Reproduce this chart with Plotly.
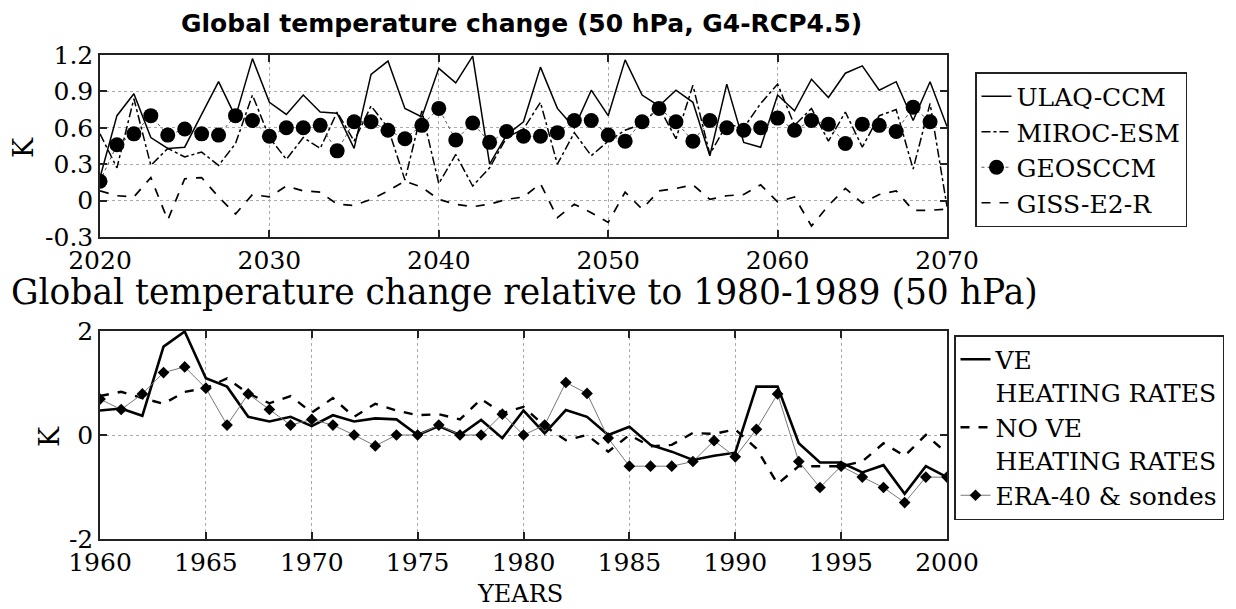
import plotly.graph_objects as go

# ---------------- data ----------------
years_top = list(range(2020, 2071))
ulaq_ccm = [0.19, 0.70, 0.88, 0.52, 0.43, 0.44, 0.71, 0.98, 0.69, 1.17,
            0.81, 0.71, 0.87, 0.73, 0.72, 0.43, 1.04, 1.15, 0.76, 0.69,
            1.09, 0.97, 1.19, 0.30, 0.54, 0.65, 1.10, 0.76, 0.60, 0.91,
            0.70, 1.16, 0.87, 0.78, 0.91, 0.81, 0.37, 0.96, 0.48, 0.44,
            0.87, 0.74, 1.00, 0.85, 1.05, 1.11, 0.91, 0.98, 0.66, 0.98, 0.61]
miroc_esm = [0.55, 0.27, 0.84, 0.29, 0.43, 0.36, 0.40, 0.29, 0.47, 0.87,
             0.52, 0.34, 0.52, 0.43, 0.73, 0.49, 0.78, 0.60, 0.17, 0.74,
             0.14, 0.38, 0.12, 0.27, 0.52, 0.59, 0.81, 0.30, 0.56, 0.37,
             0.49, 0.58, 0.63, 0.77, 0.51, 0.95, 0.38, 0.63, 0.60, 0.80,
             0.96, 0.62, 0.76, 0.49, 0.73, 0.44, 0.70, 0.75, 0.26, 0.80, -0.05]
geosccm = [0.16, 0.46, 0.55, 0.70, 0.54, 0.59, 0.55, 0.54, 0.70, 0.66,
           0.53, 0.60, 0.60, 0.62, 0.41, 0.65, 0.65, 0.58, 0.51, 0.62,
           0.76, 0.50, 0.64, 0.48, 0.57, 0.53, 0.53, 0.56, 0.66, 0.66,
           0.54, 0.49, 0.65, 0.76, 0.65, 0.49, 0.66, 0.60, 0.58, 0.60,
           0.68, 0.58, 0.66, 0.63, 0.47, 0.63, 0.62, 0.57, 0.77, 0.65, None]
giss_e2_r = [0.08, 0.04, 0.03, 0.19, -0.16, 0.18, 0.19, 0.03, -0.11, 0.05,
             0.03, 0.12, 0.08, 0.07, -0.03, -0.04, 0.01, 0.08, 0.16, 0.11,
             0.01, -0.03, -0.05, -0.03, 0.01, 0.03, 0.14, -0.14, -0.03, -0.10,
             -0.18, 0.07, -0.07, 0.08, 0.10, 0.13, 0.01, 0.04, 0.05, 0.13,
             -0.01, 0.03, -0.21, -0.04, 0.10, -0.02, 0.05, 0.08, -0.08, -0.08, -0.07]

years_bot = list(range(1960, 2001))
ve_heating = [0.47, 0.51, 0.37, 1.70, 1.99, 1.09, 0.93, 0.35, 0.26, 0.35,
              0.17, 0.38, 0.26, 0.32, 0.30, 0.0, 0.17, 0.0, 0.29, -0.06,
              0.47, 0.03, 0.48, 0.35, 0.0, 0.16, -0.19, -0.32, -0.48, -0.40,
              -0.34, 0.93, 0.93, -0.16, -0.53, -0.53, -0.72, -0.58, -1.13, -0.60, -0.81]
no_ve_heating = [0.75, 0.83, 0.71, 0.60, 0.83, 0.90, 1.09, 0.80, 0.61, 0.75,
                 0.43, 0.71, 0.35, 0.60, 0.47, 0.38, 0.40, 0.30, 0.69, 0.42,
                 0.54, 0.17, -0.10, 0.0, -0.32, 0.0, -0.22, -0.19, 0.04, 0.02,
                 0.11, -0.26, -0.94, -0.60, -0.60, -0.60, -0.51, -0.16, -0.40, 0.0, -0.35]
era40_sondes = [0.69, 0.49, 0.79, 1.20, 1.31, 0.90, 0.19, 0.79, 0.49, 0.19,
                0.30, 0.19, 0.0, -0.21, 0.0, 0.0, 0.19, 0.0, 0.0, 0.40,
                0.0, 0.19, 1.01, 0.80, -0.06, -0.60, -0.60, -0.60, -0.51, -0.11,
                -0.42, 0.11, 0.79, -0.51, -1.01, -0.60, -0.81, -1.01, -1.30, -0.81, -0.81]

top_yticks = [-0.3, 0, 0.3, 0.6, 0.9, 1.2]
top_yticklabels = ["-0.3", "0", "0.3", "0.6", "0.9", "1.2"]
top_xticks = [2020, 2030, 2040, 2050, 2060, 2070]
bot_yticks = [-2, 0, 2]
bot_yticklabels = ["-2", "0", "2"]
bot_xticks = list(range(1960, 2001, 5))

# ---------------- figure ----------------
W, H = 1236, 609
OFF = 8                                 # page body margin offset
L, R, T, B = 100 - OFF, W - 947 + OFF, 55 - OFF, H - 539 + OFF
PW, PH = W - L - R, H - T - B
SERIF = "DejaVu Serif"


def px(x):
    return (x - OFF - L) / PW


def py(y):
    return (H - B - (y - OFF)) / PH


fig = go.Figure()

fig.add_trace(go.Scatter(x=years_top, y=ulaq_ccm, name="ULAQ-CCM", mode="lines", legendgroup="a",
                         line=dict(color="black", width=1.5), xaxis="x", yaxis="y", legend="legend"))
fig.add_trace(go.Scatter(x=years_top, y=miroc_esm, name="MIROC-ESM", mode="lines", legendgroup="b",
                         line=dict(color="black", width=1.5, dash="dashdot"), xaxis="x", yaxis="y", legend="legend"))
fig.add_trace(go.Scatter(x=years_top, y=geosccm, name="GEOSCCM", mode="lines+markers", legendgroup="c",
                         line=dict(color="#555", width=1, dash="dot"),
                         marker=dict(color="black", size=15), xaxis="x", yaxis="y", legend="legend"))
fig.add_trace(go.Scatter(x=years_top, y=giss_e2_r, name="GISS-E2-R", mode="lines", legendgroup="d",
                         line=dict(color="black", width=1.7, dash="dash"), xaxis="x", yaxis="y", legend="legend"))

fig.add_trace(go.Scatter(x=years_bot, y=ve_heating, name="VE<br>HEATING RATES", mode="lines",
                         legendgroup="e",
                         line=dict(color="black", width=2.6), xaxis="x2", yaxis="y2", legend="legend2"))
fig.add_trace(go.Scatter(x=years_bot, y=no_ve_heating, name="NO VE<br>HEATING RATES", mode="lines",
                         legendgroup="f",
                         line=dict(color="black", width=2.4, dash="dash"), xaxis="x2", yaxis="y2", legend="legend2"))
fig.add_trace(go.Scatter(x=years_bot, y=era40_sondes, name="ERA-40 & sondes", mode="lines+markers",
                         legendgroup="g",
                         line=dict(color="#777", width=1),
                         marker=dict(color="black", size=9, symbol="diamond"), xaxis="x2", yaxis="y2", legend="legend2"))

axis_common = dict(showline=True, linecolor="#222", linewidth=1.5, mirror="ticks",
                   ticks="inside", ticklen=7, tickcolor="#222", tickwidth=1.5,
                   showgrid=True, gridcolor="#aaa", griddash="dot", gridwidth=1,
                   zeroline=False, automargin=False,
                   tickfont=dict(family=SERIF, size=25, color="black"))

fig.update_layout(
    width=W, height=H, paper_bgcolor="white", plot_bgcolor="white",
    margin=dict(l=L, r=R, t=T, b=B, autoexpand=False), showlegend=True,
    xaxis=dict(domain=[0, 1], range=[2020, 2070], tickvals=top_xticks, anchor="y", **axis_common),
    yaxis=dict(domain=[py(237), 1], range=[-0.3, 1.2], tickvals=top_yticks,
               ticktext=top_yticklabels, anchor="x", **axis_common),
    xaxis2=dict(domain=[0, 1], range=[1960, 2000], tickvals=bot_xticks, anchor="y2", **axis_common),
    yaxis2=dict(domain=[0, py(331)], range=[-2, 2], tickvals=bot_yticks, ticktext=bot_yticklabels,
                anchor="x2", **axis_common),
    legend=dict(x=px(975), y=py(72), xanchor="left", yanchor="top",
                bordercolor="#222", borderwidth=1.5, bgcolor="white",
                traceorder="grouped", tracegroupgap=0,
                font=dict(family=SERIF, size=25, color="black")),
    legend2=dict(x=px(954), y=py(335), xanchor="left", yanchor="top",
                 bordercolor="#222", borderwidth=1.5, bgcolor="white", valign="top",
                 traceorder="grouped", tracegroupgap=0,
                 font=dict(family=SERIF, size=25, color="black")),
    annotations=[
        dict(text="<b>Global temperature change (50 hPa, G4-RCP4.5)</b>", x=px(521), y=py(OFF),
             xref="paper", yref="paper", showarrow=False, xanchor="center", yanchor="top",
             borderpad=0, font=dict(family="DejaVu Sans", size=25, color="black")),
        dict(text="Global temperature change relative to 1980-1989 (50 hPa)", x=px(524), y=py(292),
             xref="paper", yref="paper", showarrow=False, xanchor="center", yanchor="middle",
             font=dict(family=SERIF, size=34.5, color="black")),
        dict(text="K", x=px(23), y=py(148), textangle=-90,
             xref="paper", yref="paper", showarrow=False, xanchor="center", yanchor="middle",
             font=dict(family=SERIF, size=27, color="black")),
        dict(text="K", x=px(49), y=py(437), textangle=-90,
             xref="paper", yref="paper", showarrow=False, xanchor="center", yanchor="middle",
             font=dict(family=SERIF, size=27, color="black")),
        dict(text="YEARS", x=px(520), y=py(594),
             xref="paper", yref="paper", showarrow=False, xanchor="center", yanchor="middle",
             font=dict(family=SERIF, size=24, color="black")),
    ],
)

fig.write_html("out.html")
